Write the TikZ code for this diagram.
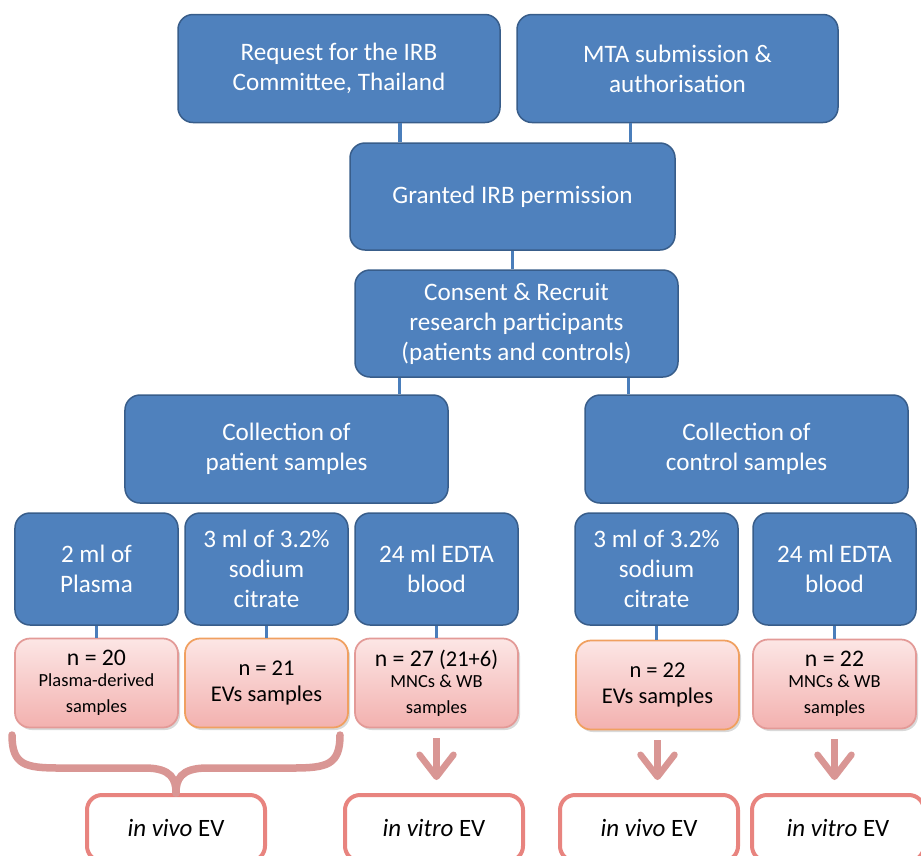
\documentclass[tikz,border=0pt]{standalone}
\usepackage{fontspec}
\setmainfont{Carlito}
\usepackage{tikz}
\usetikzlibrary{arrows.meta, positioning, calc, shadows}
\definecolor{boxblue}{HTML}{4F81BD}
\definecolor{boxbluedark}{HTML}{385D8A}
\definecolor{linkblue}{HTML}{4A7EBB}
\definecolor{pinktop}{HTML}{FCE6E5}
\definecolor{pinkbot}{HTML}{F3B1AF}
\definecolor{pinkedge}{HTML}{E39A97}
\definecolor{orangeedge}{HTML}{F0A060}
\definecolor{flowpink}{HTML}{D99694}
\definecolor{evedge}{HTML}{E8847F}
\newcommand\smalltxt{\fontsize{10.5}{12}\selectfont}
\newcommand\bigtxt{\fontsize{13.5}{15}\selectfont}
\tikzset{
  pbox/.style={draw=boxbluedark, line width=0.3mm, rounded corners=3mm, fill=boxblue, text=white, align=center, inner sep=2pt, minimum width=64.6mm, minimum height=21.6mm, font=\fontsize{14.3}{17}\selectfont},
  psmall/.style={pbox, minimum width=32.6mm, minimum height=22.4mm},
  pcount/.style={draw=pinkedge, line width=0.35mm, rounded corners=3mm, top color=pinktop, bottom color=pinkbot, align=center, inner sep=1pt, minimum width=32.6mm, minimum height=17.8mm, font=\fontsize{12.8}{15}\selectfont, drop shadow={opacity=0.3, shadow xshift=0.4mm, shadow yshift=-0.5mm}},
  pcountO/.style={pcount, draw=orangeedge},
  pev/.style={draw=evedge, line width=0.8mm, rounded corners=3mm, fill=white, minimum width=35.6mm, minimum height=13.2mm, font=\fontsize{14.2}{16}\selectfont},
  plink/.style={draw=linkblue, line width=0.7mm},
  pflow/.style={-{Straight Barb[length=4.4mm, width=6.8mm, round]}, line width=1.3mm, flowpink, shorten <=2mm, shorten >=2.6mm},
  pbrace/.style={line width=1.5mm, flowpink, line cap=round},
}

\begin{document}
\begin{tikzpicture}[x=0.2mm, y=-0.2mm]
  \clip (0,0) rectangle (921,855);
  % approval chain
  \node[pbox, minimum width=64.4mm] (req) at (339,68.5) {Request for the IRB\\Committee, Thailand};
  \node[pbox, minimum width=64.2mm] (mta) at (677.5,68.5) {MTA submission \&\\authorisation};
  \node[pbox, minimum width=65mm, minimum height=21.4mm] (granted) at (512.5,196.5) {Granted IRB permission};
  \node[pbox, minimum height=21.4mm] (consent) at (516.5,323.5) {Consent \& Recruit\\research participants\\(patients and controls)};
  \node[pbox] (patient) at (286.5,449) {Collection of\\patient samples};
  \node[pbox] (control) at (746.5,449) {Collection of\\control samples};

  % sample tubes
  \node[psmall] (plasma) at (96.5,569) {2 ml of\\Plasma};
  \node[psmall] (cit1) at (266.5,569) {3 ml of 3.2\%\\sodium\\citrate};
  \node[psmall] (edta1) at (436.5,569) {24 ml EDTA\\blood};
  \node[psmall] (cit2) at (656.5,569) {3 ml of 3.2\%\\sodium\\citrate};
  \node[psmall] (edta2) at (834.5,569) {24 ml EDTA\\blood};

  % counts
  \node[pcount] (plasman) at (96.5,683) {{\bigtxt n = 20}\\[-3pt]{\smalltxt Plasma-derived}\\{\smalltxt samples}};
  \node[pcountO] (cit1n) at (266.5,683) {n = 21\\EVs samples};
  \node[pcount] (edta1n) at (436.5,683) {{\bigtxt n = 27} (21+6)\\[-3pt]{\smalltxt MNCs \& WB}\\{\smalltxt samples}};
  \node[pcountO] (cit2n) at (657.5,685) {n = 22\\EVs samples};
  \node[pcount] (edta2n) at (834.5,684) {{\bigtxt n = 22}\\[-3pt]{\smalltxt MNCs \& WB}\\{\smalltxt samples}};

  % EV outcomes
  \node[pev] (invivo1) at (176,828) {\textit{in vivo} EV};
  \node[pev] (invitro1) at (434,828) {\textit{in vitro} EV};
  \node[pev] (invivo2) at (649,828) {\textit{in vivo} EV};
  \node[pev, minimum width=34.4mm] (invitro2) at (838,828) {\textit{in vitro} EV};

  % blue links
  \draw[plink] ($(granted.north west)!0.155!(granted.north east)$) coordinate (g1) -- (g1 |- req.south);
  \draw[plink] ($(granted.north west)!0.862!(granted.north east)$) coordinate (g2) -- (g2 |- mta.south);
  \draw[plink] (granted.south) -- (granted.south |- consent.north);
  \draw[plink] ($(consent.south west)!0.139!(consent.south east)$) coordinate (c1) -- (c1 |- patient.north);
  \draw[plink] ($(consent.south west)!0.845!(consent.south east)$) coordinate (c2) -- (c2 |- control.north);
  \foreach \a/\b in {plasma/plasman, cit1/cit1n, edta1/edta1n, cit2/cit2n, edta2/edta2n}
    \draw[plink] (\a.south) -- (\a.south |- \b.north);

  % brace and arrows
  \coordinate (brL) at (12,735);
  \coordinate (brR) at (340,735);
  \draw[pbrace] (brL) .. controls (12,765) and (25,768) .. (60,768) -- (145,768) .. controls (172,768) and (176,780) .. (invivo1.north);
  \draw[pbrace] (brR) .. controls (340,765) and (327,768) .. (292,768) -- (207,768) .. controls (180,768) and (176,780) .. (invivo1.north);
  \draw[pflow] (edta1n.south) -- (edta1n.south |- invitro1.north);
  \draw[pflow] (cit2n.south) -- (cit2n.south |- invivo2.north);
  \draw[pflow] (edta2n.south) -- (edta2n.south |- invitro2.north);
\end{tikzpicture}
\end{document}
